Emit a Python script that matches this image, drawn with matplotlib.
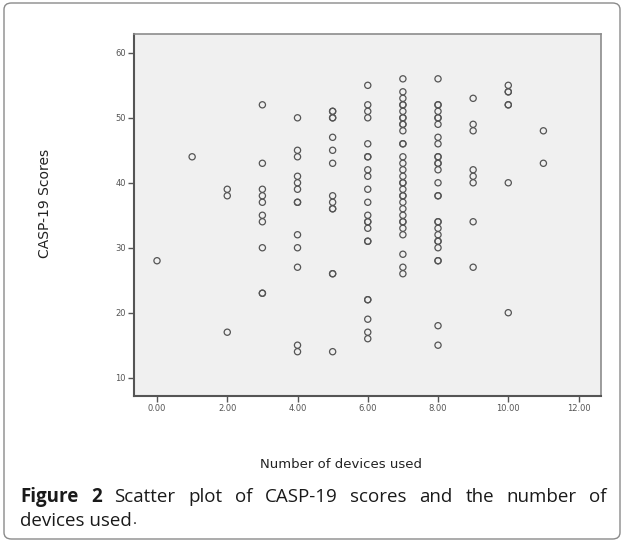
import matplotlib
matplotlib.use("Agg")
import matplotlib.pyplot as plt
from matplotlib.patches import FancyBboxPatch

# Data (number of devices -> CASP-19 scores)
y0 = [28]
y1 = [44]
y2 = [39, 38, 17]
y3 = [52, 43, 39, 38, 37, 35, 34, 30, 23, 23]
y4 = [50, 45, 44, 41, 40, 39, 37, 37, 32, 30, 27, 15, 14]
y5 = [51, 51, 50, 50, 47, 45, 43, 38, 37, 36, 36, 26, 26, 14]
y6 = [55, 52, 51, 50, 46, 44, 44, 42, 41, 39, 37, 35, 34, 34, 33, 31, 31, 22, 22, 19, 17, 16]
y7 = [56, 54, 53, 52, 52, 51, 50, 50, 49, 49, 48, 46, 46, 44, 43, 42, 41, 40, 40, 39, 38, 38,
      37, 36, 35, 34, 34, 33, 32, 29, 27, 26]
y8 = [56, 52, 52, 51, 50, 50, 49, 47, 46, 44, 44, 43, 43, 42, 40, 38, 38, 34, 34, 33, 32, 31,
      31, 30, 28, 28, 18, 15]
y9 = [53, 49, 48, 42, 41, 40, 34, 27]
y10 = [55, 54, 54, 52, 52, 40, 20]
y11 = [48, 43]

devices = [0, 1, 2, 3, 4, 5, 6, 7, 8, 9, 10, 11]
scores = [y0, y1, y2, y3, y4, y5, y6, y7, y8, y9, y10, y11]

xticks = [0, 2, 4, 6, 8, 10, 12]
xtick_labels = ["0.00", "2.00", "4.00", "6.00", "8.00", "10.00", "12.00"]
yticks = [10, 20, 30, 40, 50, 60]

xs, ys = [], []
for d, s in zip(devices, scores):
    xs += [d] * len(s)
    ys += s

W, H = 625, 542
fig = plt.figure(figsize=(W / 100, H / 100), dpi=100)
fig.patch.set_facecolor("white")

# outer rounded frame
box = FancyBboxPatch((4 / W, 3 / H), 616 / W, 536 / H,
                     boxstyle="round,pad=0,rounding_size=0.012",
                     transform=fig.transFigure, facecolor="none",
                     edgecolor="#8a8a8a", linewidth=1.0, zorder=-5)
fig.patches.append(box)

ax = fig.add_axes([134 / W, 1 - 396 / H, 467 / W, 362 / H])
ax.set_facecolor("#f0f0f0")
ax.scatter(xs, ys, s=20, facecolors="none", edgecolors="#555555", linewidths=0.9, zorder=3)

ax.set_xlim(-0.655, 12.64)
ax.set_ylim(7.18, 62.9)
ax.set_xticks(xticks)
ax.set_xticklabels(xtick_labels)
ax.set_yticks(yticks)
ax.tick_params(axis="both", direction="out", length=4, width=1.0, color="#555555",
               labelsize=6, labelcolor="#555555", pad=2)

for side in ["top", "right"]:
    ax.spines[side].set_color("#8c8c8c")
    ax.spines[side].set_linewidth(1.2)
for side in ["left", "bottom"]:
    ax.spines[side].set_color("#555555")
    ax.spines[side].set_linewidth(1.5)

fig.text(45 / W, 1 - 203 / H, "CASP-19 Scores", rotation=90, ha="center", va="center",
         fontsize=10, color="#222222", family="DejaVu Sans")
fig.text(341 / W, 1 - 465 / H, "Number of devices used", ha="center", va="center",
         fontsize=9.5, color="#222222", family="DejaVu Sans")

# justified caption, first line spans x=20..607
cap_size = 13.5
line1 = [("Figure", "bold"), ("2", "bold"), ("Scatter", "normal"), ("plot", "normal"),
         ("of", "normal"), ("CASP-19", "normal"), ("scores", "normal"), ("and", "normal"),
         ("the", "normal"), ("number", "normal"), ("of", "normal")]
fig.canvas.draw()
renderer = fig.canvas.get_renderer()
texts = []
for word, wt in line1:
    t = fig.text(0, 1 - 497 / H, word, ha="left", va="center", fontsize=cap_size,
                 fontweight=wt, family="Open Sans", color="#1a1a1a")
    texts.append(t)
widths = [t.get_window_extent(renderer).width for t in texts]
x_start, x_end = 20.0, 607.0
gap = (x_end - x_start - sum(widths)) / (len(texts) - 1)
xpos = x_start
for t, w in zip(texts, widths):
    t.set_x(xpos / W)
    xpos += w + gap

t2 = fig.text(20 / W, 1 - 521 / H, "devices used", ha="left", va="center", fontsize=cap_size,
              family="Open Sans", color="#1a1a1a")
w2 = t2.get_window_extent(renderer).width
fig.text((20 + w2 + 1) / W, 1 - 521 / H, ".", ha="left", va="center", fontsize=cap_size - 3,
         family="Open Sans", color="#1a1a1a")

fig.savefig("out.png", dpi=100)
